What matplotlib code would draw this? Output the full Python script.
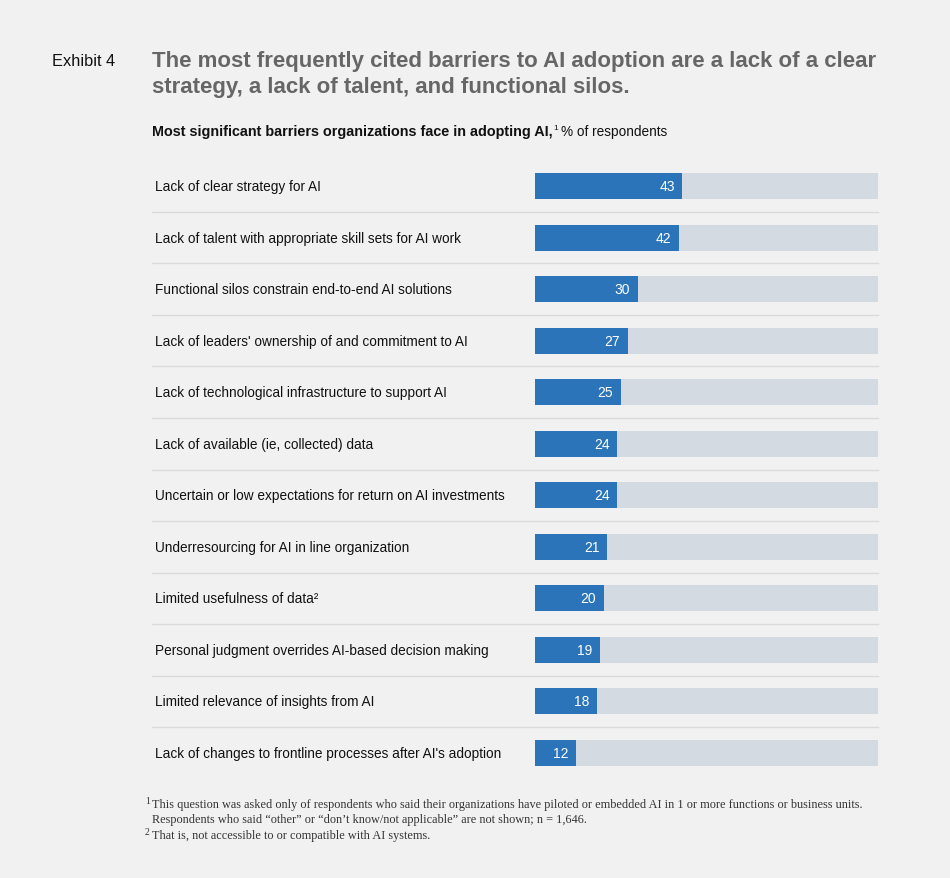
import matplotlib.pyplot as plt
from matplotlib import transforms

# data
barriers = [
    'Lack of clear strategy for AI',
    'Lack of talent with appropriate skill sets for AI work',
    'Functional silos constrain end-to-end AI solutions',
    "Lack of leaders' ownership of and commitment to AI",
    'Lack of technological infrastructure to support AI',
    'Lack of available (ie, collected) data',
    'Uncertain or low expectations for return on AI investments',
    'Underresourcing for AI in line organization',
    'Limited usefulness of data\u00b2',
    'Personal judgment overrides AI-based decision making',
    'Limited relevance of insights from AI',
    "Lack of changes to frontline processes after AI's adoption",
]
pct = [43, 42, 30, 27, 25, 24, 24, 21, 20, 19, 18, 12]

W, H = 950, 879
bg = '#f1f1f1'
blue = '#2b74b9'
track = '#d3dae2'
sans = 'Liberation Sans'
serif = 'Liberation Serif'

fig = plt.figure(figsize=(W / 100, H / 100), dpi=100, facecolor=bg)
renderer = fig.canvas.get_renderer()

def fx(px):
    return px / W

def fy(py):
    return 1 - py / H

def right_px(t):
    return t.get_window_extent(renderer).x1

# header
fig.text(fx(52), fy(62), 'Exhibit 4', family=sans, fontsize=11.8, color='#111111', va='center')
fig.text(fx(152), fy(61), 'The most frequently cited barriers to AI adoption are a lack of a clear',
         family=sans, fontsize=16, fontweight='bold', color='#666666', va='center')
fig.text(fx(152), fy(87), 'strategy, a lack of talent, and functional silos.',
         family=sans, fontsize=16, fontweight='bold', color='#666666', va='center')
t = fig.text(fx(152), fy(132), 'Most significant barriers organizations face in adopting AI,',
             family=sans, fontsize=10.4, fontweight='bold', color='#111111', va='center')
t = fig.text(right_px(t) / W + fx(1), fy(128), '1', family=sans, fontsize=6, color='#111111', va='center')
fig.text(right_px(t) / W + fx(3), fy(132), '% of respondents', family=sans, fontsize=9.8,
         color='#111111', va='center')

# bar axes: track from x=535 to 878 (0-100), rows 187..754
row_gap = (754 - 187) / 11
top = 187 - row_gap / 2
bottom = 754 + row_gap / 2
ax = fig.add_axes([fx(535), fy(bottom), fx(878) - fx(535), (bottom - top) / H])
ax.set_facecolor('none')
n = len(pct)
ys = list(range(n))
ax.barh(ys, [100] * n, height=0.505, color=track, left=0)
ax.barh(ys, pct, height=0.505, color=blue, left=0)
ax.set_xlim(0, 100)
ax.set_ylim(n - 0.5, -0.5)
ax.axis('off')

lab_tr = transforms.blended_transform_factory(fig.transFigure, ax.transData)
for y, v, lab in zip(ys, pct, barriers):
    ax.text(v - 2.2, y, str(v), color='white', fontsize=10, family=sans, ha='right', va='center')
    ax.text(fx(155), y, lab, transform=lab_tr, fontsize=9.8, family=sans,
            color='#111111', ha='left', va='center')

for y in ys[:-1]:
    ax.plot([fx(152), fx(878)], [y + 0.5, y + 0.5], color='#dadada', lw=1.0,
            transform=lab_tr, clip_on=False)

# footnotes
fn = '#333333'
fig.text(fx(145), fy(802), '1', family=serif, fontsize=7, color=fn, va='center')
fig.text(fx(152), fy(805), 'This question was asked only of respondents who said their organizations have piloted or embedded AI in 1 or more functions or business units.',
         family=serif, fontsize=8.8, color=fn, va='center')
fig.text(fx(152), fy(820), 'Respondents who said \u201cother\u201d or \u201cdon\u2019t know/not applicable\u201d are not shown; n = 1,646.',
         family=serif, fontsize=8.8, color=fn, va='center')
fig.text(fx(145), fy(833), '2', family=serif, fontsize=7, color=fn, va='center')
fig.text(fx(152), fy(836), 'That is, not accessible to or compatible with AI systems.',
         family=serif, fontsize=8.8, color=fn, va='center')

fig.savefig('out.png', dpi=100, facecolor=bg)
